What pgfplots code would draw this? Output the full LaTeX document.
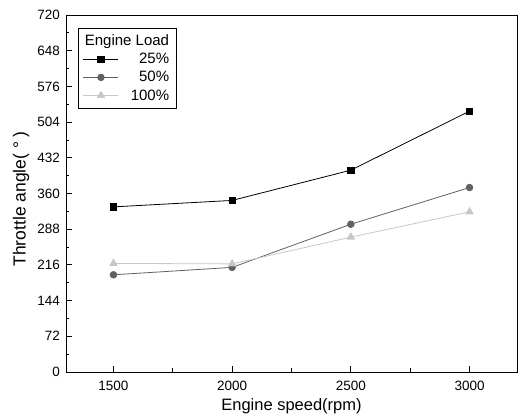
\documentclass[border=0pt]{standalone}
\usepackage{pgfplots}
\pgfplotsset{compat=1.18}
\usepackage{fontspec}
\setmainfont{Liberation Sans}
\begin{document}
\begin{tikzpicture}
\begin{axis}[
  name=ax,
  scale only axis, width=451pt, height=357pt,
  xmin=1300, xmax=3200, ymin=0, ymax=720,
  xtick={1500,2000,2500,3000}, minor xtick={1750,2250,2750},
  ytick={0,72,...,720}, minor ytick={36,108,...,684},
  xtick pos=bottom, ytick pos=left,
  tick align=inside, major tick length=6pt, minor tick length=3.5pt,
  tick style={black, line width=0.8pt},
  axis line style={line width=0.9pt},
  xlabel={Engine speed(rpm)}, ylabel={Throttle angle( ° )},
  xlabel style={font=\fontsize{16.5}{18}\selectfont, at={(axis description cs:0.5,0)}, anchor=center, yshift=-34pt},
  ylabel style={font=\fontsize{17.5}{19}\selectfont, at={(axis description cs:0,0.485)}, anchor=center, yshift=45pt},
  tick label style={font=\fontsize{13.5}{15}\selectfont},
  yticklabel style={xshift=-2.5pt},
  xticklabel style={yshift=-5.5pt, /pgf/number format/1000 sep={}},
  /pgf/number format/assume math mode=true,
  scaled ticks=false,
  legend style={at={(axis description cs:0.026,0.964)}, anchor=north west,
    font=\fontsize{15}{16}\selectfont, draw=black, line width=0.7pt,
    cells={anchor=east}, row sep=2.2pt, inner xsep=5pt, inner ysep=4.5pt,
    /tikz/every odd column/.append style={column sep=4pt}},
  legend image code/.code={\draw (0pt,0pt) -- (35pt,0pt); \draw plot coordinates {(17.5pt,0pt)};},
]
\addlegendimage{empty legend}
\addlegendentry{\hspace*{-40pt}Engine Load}
\addplot[black, line width=0.8pt, mark=square*, mark size=3.2pt, mark options={solid}]
  coordinates {(1500,333) (2000,346) (2500,407) (3000,526)};
\addlegendentry{25\%}
\addplot[black!62, line width=0.8pt, mark=*, mark size=3.3pt]
  coordinates {(1500,196) (2000,211) (2500,298) (3000,372)};
\addlegendentry{50\%}
\addplot[black!22, line width=0.8pt, mark=triangle*, mark size=4.2pt]
  coordinates {(1500,219) (2000,218) (2500,272) (3000,323)};
\addlegendentry{100\%}
\end{axis}
\path ([xshift=-66pt,yshift=-43pt]ax.south west) rectangle ([xshift=2pt,yshift=15pt]ax.north east);
\end{tikzpicture}
\end{document}
